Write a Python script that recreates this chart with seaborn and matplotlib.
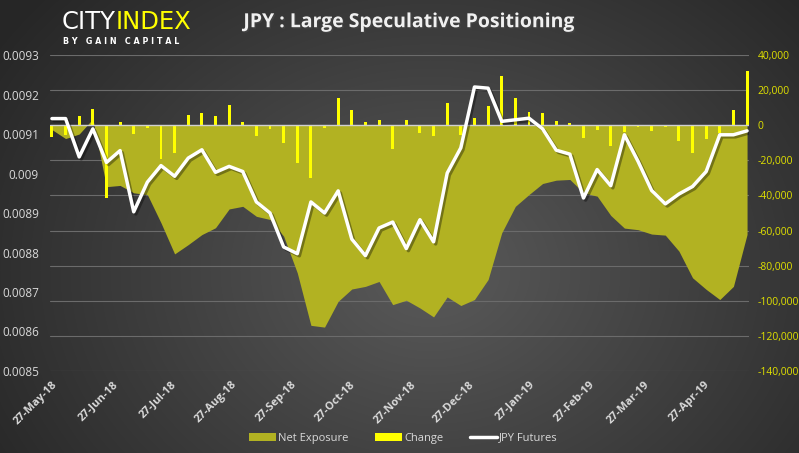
import numpy as np
import pandas as pd
import matplotlib
matplotlib.use("Agg")
import matplotlib.pyplot as plt
import matplotlib.dates as mdates
import matplotlib.patheffects as pe
from matplotlib.patches import Patch
from matplotlib.lines import Line2D
from matplotlib.ticker import FuncFormatter
import seaborn as sns

# ==================================================
# Data (weekly)
# ==================================================
dates = pd.date_range("2018-05-27", periods=52, freq="7D")

net_exposure = [
    -2500, -7600, -5000, 3600, -35000, -34300, -38500, -39500, -55600, -73300,
    -68000, -62300, -58400, -47700, -46200, -51900, -53700, -63200, -84100, -114000,
    -115000, -100300, -93300, -91800, -89000, -102200, -99700, -104100, -109200, -97800,
    -102700, -99300, -87900, -61300, -46200, -39500, -33200, -31300, -30900, -38500,
    -40400, -51400, -58600, -59500, -62000, -62600, -71700, -86900, -93500, -99300,
    -91800, -62200,
]

change = [
    -6600, -5800, 5000, 9500, -41500, 1800, -5000, -1800, -19000, -16000,
    6000, 6700, 5000, 11600, 1700, -6300, -2100, -10200, -21800, -30000,
    -1700, 15600, 8800, 1700, 3000, -13800, 3000, -4700, -6300, 12500,
    -5700, 4000, 11000, 28300, 15600, 7600, 7000, 2300, 1000, -7400,
    -2800, -12000, -4000, -1100, -3400, -1100, -9100, -16100, -7700, -4300,
    8500, 31000,
]

jpy_futures = [
    0.009139, 0.009139, 0.009042, 0.009113, 0.009028, 0.009058, 0.008903, 0.008978, 0.009020, 0.008993,
    0.009039, 0.009060, 0.009003, 0.009018, 0.009005, 0.008928, 0.008900, 0.008814, 0.008797, 0.008928,
    0.008900, 0.008956, 0.008834, 0.008792, 0.008862, 0.008877, 0.008810, 0.008883, 0.008827, 0.009001,
    0.009065, 0.009219, 0.009216, 0.009132, 0.009136, 0.009140, 0.009113, 0.009059, 0.009049, 0.008938,
    0.009010, 0.008969, 0.009098, 0.009031, 0.008957, 0.008923, 0.008948, 0.008967, 0.009005, 0.009098,
    0.009098, 0.009108,
]

tick_dates = [
    "2018-05-27", "2018-06-27", "2018-07-27", "2018-08-27", "2018-09-27",
    "2018-10-27", "2018-11-27", "2018-12-27", "2019-01-27", "2019-02-27",
    "2019-03-27", "2019-04-27",
]

df = pd.DataFrame({
    "date": dates,
    "Net Exposure": net_exposure,
    "Change": change,
    "JPY Futures": jpy_futures,
})

# ==================================================
# Styling
# ==================================================
sns.set_style("dark")
plt.rcParams["font.family"] = ["Open Sans", "DejaVu Sans"]

OLIVE = "#b2b222"
YELLOW = "#ffff00"
TXT = "#d9d9d9"
GRID = "#6b6b6b"

fig = plt.figure(figsize=(7.99, 4.53), dpi=100)

# radial grey background
bg = fig.add_axes([0, 0, 1, 1], zorder=-10)
yy, xx = np.mgrid[0:453, 0:799]
r = np.sqrt(((xx - 430) / 520.0) ** 2 + ((yy - 270) / 420.0) ** 2)
r = np.clip(r, 0, 1)
inner = np.array([0x5a, 0x5a, 0x5a]) / 255.0
outer = np.array([0x26, 0x26, 0x26]) / 255.0
img = inner[None, None, :] * (1 - r[..., None]) + outer[None, None, :] * r[..., None]
bg.imshow(img, aspect="auto", extent=[0, 1, 0, 1])
bg.axis("off")

left, right = 50 / 799, 749 / 799
bottom, top = 1 - 371 / 453, 1 - 55 / 453
ax = fig.add_axes([left, bottom, right - left, top - bottom])
ax.set_facecolor("none")
ax2 = ax.twinx()
ax2.set_facecolor("none")

# ==================================================
# Net exposure area + change bars (right axis)
# ==================================================
ax.fill_between(df["date"], df["Net Exposure"], 0, color=OLIVE, lw=0,
                zorder=2)
ax.bar(df["date"], df["Change"], width=1.5, color=YELLOW, edgecolor="none",
       linewidth=0, zorder=3)
ax.axhline(0, color="#d0d0d0", lw=1, zorder=4)

ax.set_ylim(-140000, 40000)
ax.set_yticks(np.arange(-140000, 40001, 20000))
ax.yaxis.set_major_formatter(FuncFormatter(lambda v, p: f"{int(v):,}"))
ax.yaxis.tick_right()
ax.tick_params(axis="y", colors="#e0e000", labelsize=7.5, length=0, pad=6,
               labelright=True, labelleft=False)
ax.grid(axis="y", color=GRID, lw=0.8, zorder=0)
ax.grid(axis="x", visible=False)
ax.set_axisbelow(True)

# ==================================================
# JPY futures line (left axis)
# ==================================================
sns.lineplot(data=df, x="date", y="JPY Futures", ax=ax2, color="white",
             lw=2.5, zorder=5,
             path_effects=[pe.SimpleLineShadow(offset=(1.5, -1.5), alpha=0.35),
                           pe.Normal()])
ax2.set_ylim(0.0085, 0.0093)
ax2.set_yticks(np.arange(0.0085, 0.00931, 0.0001))
ax2.yaxis.set_major_formatter(
    FuncFormatter(lambda v, p: f"{v:.4f}".rstrip("0")))
ax2.yaxis.tick_left()
ax2.tick_params(axis="y", colors=TXT, labelsize=8.5, length=0, pad=8,
                labelleft=True, labelright=False)
ax2.grid(False)
ax2.set_ylabel("")
ax.set_ylabel("")
ax2.set_xlabel("")
ax.set_xlabel("")

# x axis
ax.set_xlim(df["date"].iloc[0] - pd.Timedelta(days=1),
            df["date"].iloc[-1] + pd.Timedelta(days=1))
ax2.set_xlim(ax.get_xlim())
ax.set_xticks(pd.to_datetime(tick_dates))
ax.xaxis.set_major_formatter(mdates.DateFormatter("%d-%b-%y"))
ax.tick_params(axis="x", colors=TXT, labelsize=8, length=0, pad=6)
for lab in ax.get_xticklabels():
    lab.set_rotation(45)
    lab.set_ha("right")
    lab.set_rotation_mode("anchor")
    lab.set_fontweight("bold")
ax2.tick_params(axis="x", length=0, labelbottom=False)

for a in (ax, ax2):
    for s in a.spines.values():
        s.set_visible(False)

# ==================================================
# Title, logo, legend
# ==================================================
fig.text(0.513, 0.951, "JPY : Large Speculative Positioning", ha="center",
         va="center", fontsize=14, fontweight="bold", color="#f0f0f0",
         path_effects=[pe.withSimplePatchShadow(offset=(1, -1), alpha=0.6)])

t1 = fig.text(62 / 799, 1 - 22 / 453, "CITY", ha="left", va="center",
              fontsize=17.5, color="white", family="DejaVu Sans")
fig.canvas.draw()
bb = t1.get_window_extent()
fig.text(bb.x1 / 799, 1 - 22 / 453, "INDEX", ha="left", va="center",
         fontsize=17.5, color=YELLOW, family="DejaVu Sans")
fig.text(63 / 799, 1 - 41 / 453, "B Y   G A I N   C A P I T A L", ha="left",
         va="center", fontsize=5.8, fontweight="bold", color="white",
         family="DejaVu Sans")

handles = [
    Patch(facecolor=OLIVE, edgecolor="none", label="Net Exposure"),
    Patch(facecolor=YELLOW, edgecolor="none", label="Change"),
    Line2D([0], [0], color="white", lw=2.5, label="JPY Futures"),
]
fig.legend(handles=handles, loc="center", bbox_to_anchor=(0.505, 1 - 438 / 453),
           ncol=3, frameon=False, fontsize=8, labelcolor=TXT,
           handlelength=2.4, handleheight=0.7, handletextpad=0.2,
           columnspacing=2.4)

fig.savefig("out.png", dpi=100)
